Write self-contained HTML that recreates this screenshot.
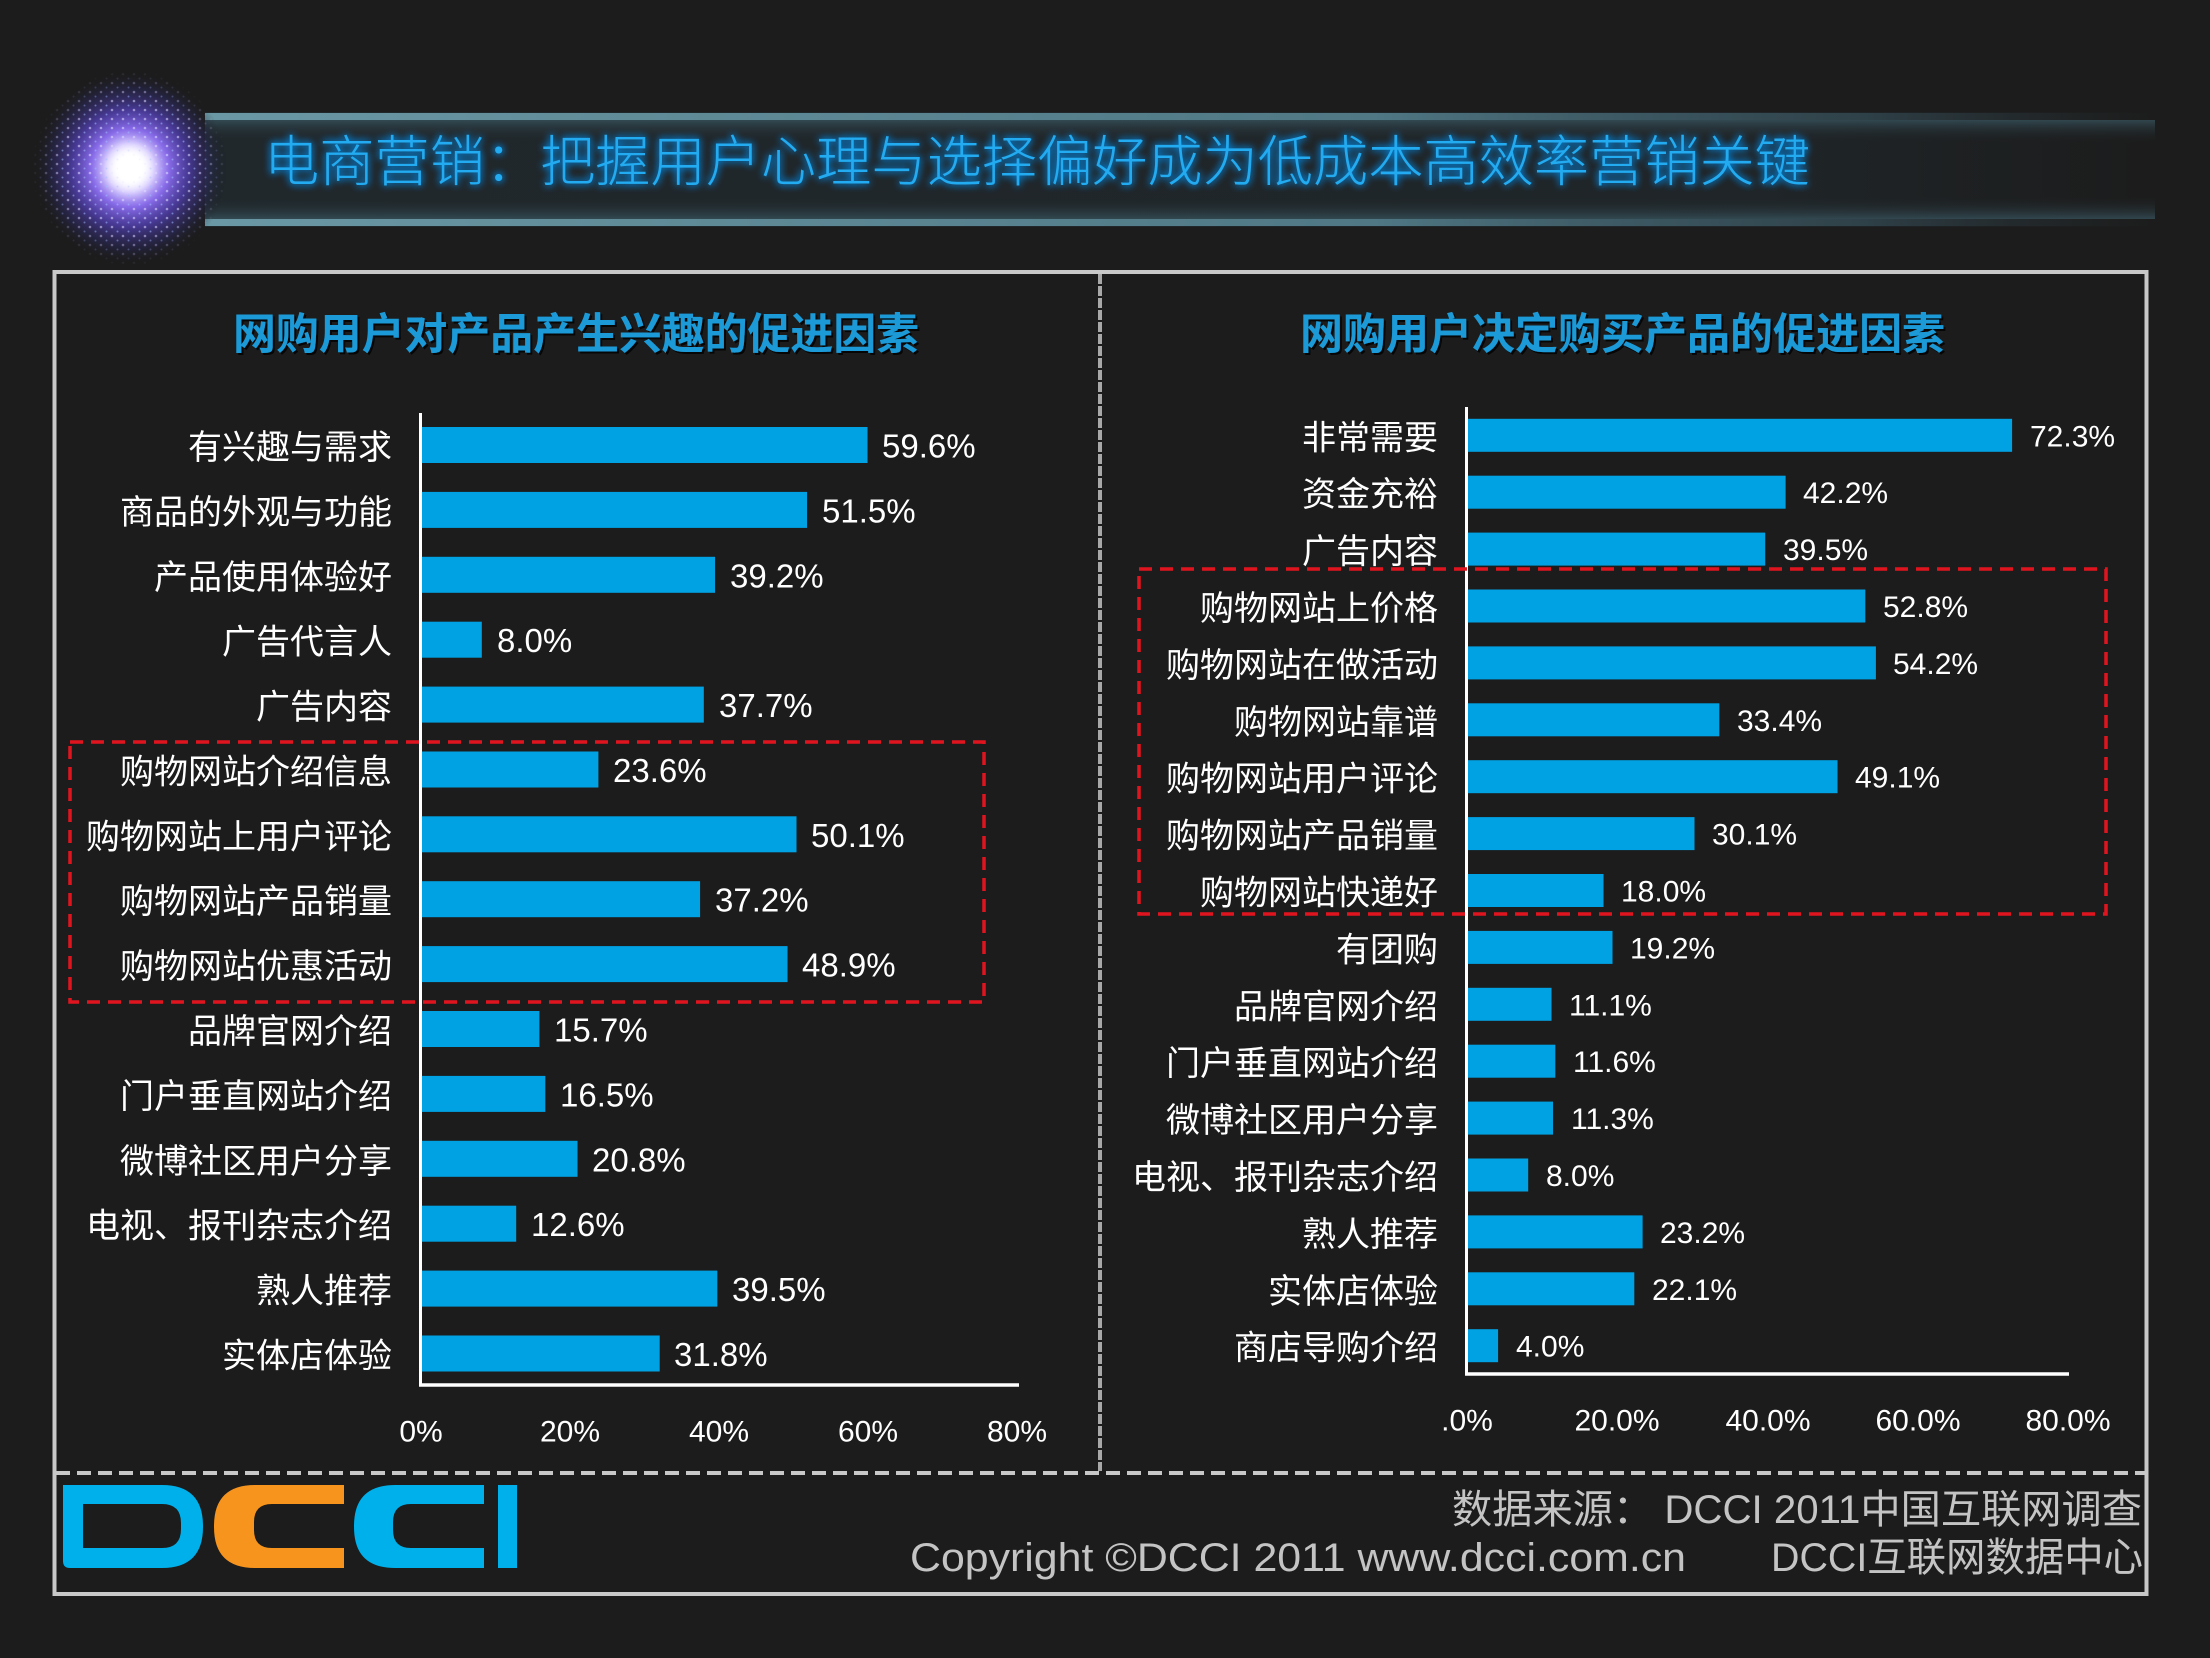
<!DOCTYPE html>
<html>
<head>
<meta charset="utf-8">
<style>
  html,body{margin:0;padding:0;background:#1c1c1c;}
  svg{display:block;}
  text{font-family:"Liberation Sans","Noto Sans CJK SC",sans-serif;}
  .lbl{fill:#ffffff;font-size:34px;text-anchor:end;dominant-baseline:central;}
  .val{fill:#ffffff;font-size:33px;dominant-baseline:central;}
  .valr{fill:#ffffff;font-size:30px;dominant-baseline:central;}
  .tick{fill:#ffffff;font-size:30px;text-anchor:middle;dominant-baseline:central;}
  .bar{fill:#00a2e4;}
</style>
</head>
<body>
<svg width="2210" height="1658" viewBox="0 0 2210 1658" xmlns="http://www.w3.org/2000/svg">
  <defs>
    <radialGradient id="star" cx="0.5" cy="0.5" r="0.5">
      <stop offset="0" stop-color="#ffffff"/>
      <stop offset="0.12" stop-color="#ffffff"/>
      <stop offset="0.24" stop-color="#d6caff"/>
      <stop offset="0.40" stop-color="#8c6ef2" stop-opacity="0.95"/>
      <stop offset="0.60" stop-color="#5240b4" stop-opacity="0.78"/>
      <stop offset="0.82" stop-color="#2a285a" stop-opacity="0.5"/>
      <stop offset="1" stop-color="#1c1c1c" stop-opacity="0"/>
    </radialGradient>
    <radialGradient id="dotmaskg" cx="0.5" cy="0.5" r="0.5">
      <stop offset="0" stop-color="#fff" stop-opacity="1"/>
      <stop offset="0.7" stop-color="#fff" stop-opacity="0.8"/>
      <stop offset="1" stop-color="#fff" stop-opacity="0"/>
    </radialGradient>
    <mask id="dotmask">
      <circle cx="130" cy="168" r="98" fill="url(#dotmaskg)"/>
    </mask>
    <pattern id="dots" width="11" height="9" patternUnits="userSpaceOnUse">
      <circle cx="2" cy="2" r="1.3" fill="#d8d2ff"/>
      <circle cx="7.5" cy="6.5" r="1" fill="#9fb4ff"/>
    </pattern>
    <linearGradient id="bandBody" x1="0" y1="0" x2="1" y2="0">
      <stop offset="0" stop-color="#20282c"/>
      <stop offset="0.8" stop-color="#1f2528"/>
      <stop offset="1" stop-color="#1c1c1c"/>
    </linearGradient>
    <linearGradient id="bandEdge" x1="0" y1="0" x2="1" y2="0">
      <stop offset="0" stop-color="#6a98a4"/>
      <stop offset="0.6" stop-color="#4f7784"/>
      <stop offset="0.85" stop-color="#3a5560" stop-opacity="0.6"/>
      <stop offset="1" stop-color="#2a3438" stop-opacity="0"/>
    </linearGradient>
    <linearGradient id="innerTop" x1="0" y1="0" x2="0" y2="1">
      <stop offset="0" stop-color="#3a5863" stop-opacity="0.7"/>
      <stop offset="1" stop-color="#1f2528" stop-opacity="0"/>
    </linearGradient>
    <linearGradient id="innerBot" x1="0" y1="1" x2="0" y2="0">
      <stop offset="0" stop-color="#3a5863" stop-opacity="0.7"/>
      <stop offset="1" stop-color="#1f2528" stop-opacity="0"/>
    </linearGradient>
    <filter id="glow" x="-5%" y="-40%" width="110%" height="180%">
      <feGaussianBlur in="SourceAlpha" stdDeviation="4" result="b"/>
      <feFlood flood-color="#0a8ae8" flood-opacity="0.9"/>
      <feComposite in2="b" operator="in" result="g"/>
      <feMerge><feMergeNode in="g"/><feMergeNode in="g"/><feMergeNode in="SourceGraphic"/></feMerge>
    </filter>
    <filter id="shadow" x="-5%" y="-30%" width="110%" height="160%">
      <feOffset in="SourceAlpha" dx="2" dy="2" result="o"/>
      <feFlood flood-color="#000000" flood-opacity="0.8"/>
      <feComposite in2="o" operator="in" result="s"/>
      <feMerge><feMergeNode in="s"/><feMergeNode in="SourceGraphic"/></feMerge>
    </filter>
    <filter id="soft" x="-50%" y="-50%" width="200%" height="200%">
      <feGaussianBlur stdDeviation="6"/>
    </filter>
  </defs>

  <rect x="0" y="0" width="2210" height="1658" fill="#1c1c1c"/>

  <!-- title banner -->
  <rect x="205" y="112" width="1950" height="115" fill="url(#bandBody)"/>
  <rect x="205" y="120" width="1950" height="22" fill="url(#innerTop)"/>
  <rect x="205" y="197" width="1950" height="22" fill="url(#innerBot)"/>
  <rect x="205" y="113" width="1950" height="7" fill="url(#bandEdge)"/>
  <rect x="205" y="219" width="1950" height="7" fill="url(#bandEdge)"/>

  <!-- starburst -->
  <circle cx="130" cy="168" r="98" fill="url(#star)"/>
  <rect x="30" y="68" width="200" height="200" fill="url(#dots)" mask="url(#dotmask)" opacity="0.7"/>
  <circle cx="130" cy="168" r="20" fill="#ffffff" filter="url(#soft)"/>
  <circle cx="130" cy="168" r="12" fill="#ffffff" opacity="0.9"/>

  <text x="264" y="162" font-size="55" font-weight="300" fill="#24abf0" dominant-baseline="central" textLength="1546" lengthAdjust="spacingAndGlyphs" filter="url(#glow)">电商营销：把握用户心理与选择偏好成为低成本高效率营销关键</text>

  <!-- outer box -->
  <rect x="54.5" y="272" width="2092" height="1322" fill="none" stroke="#c8c8c8" stroke-width="4"/>
  <line x1="56" y1="1473" x2="2145" y2="1473" stroke="#c8c8c8" stroke-width="4" stroke-dasharray="14 7"/>
  <line x1="1100" y1="274" x2="1100" y2="1471" stroke="#a8a8a8" stroke-width="4" stroke-dasharray="10 2"/>

  <!-- chart titles -->
  <text x="233" y="335" font-size="43" font-weight="bold" fill="#1a9ad8" dominant-baseline="central" textLength="686" lengthAdjust="spacingAndGlyphs" filter="url(#shadow)">网购用户对产品产生兴趣的促进因素</text>
  <text x="1300" y="335" font-size="43" font-weight="bold" fill="#1a9ad8" dominant-baseline="central" textLength="645" lengthAdjust="spacingAndGlyphs" filter="url(#shadow)">网购用户决定购买产品的促进因素</text>

  <!-- LEFT CHART -->
  <rect class="bar" x="422" y="427.0" width="445.5" height="36"/>
  <rect class="bar" x="422" y="491.9" width="385.0" height="36"/>
  <rect class="bar" x="422" y="556.8" width="293.0" height="36"/>
  <rect class="bar" x="422" y="621.7" width="59.8" height="36"/>
  <rect class="bar" x="422" y="686.6" width="281.8" height="36"/>
  <rect class="bar" x="422" y="751.5" width="176.4" height="36"/>
  <rect class="bar" x="422" y="816.3" width="374.5" height="36"/>
  <rect class="bar" x="422" y="881.2" width="278.1" height="36"/>
  <rect class="bar" x="422" y="946.1" width="365.5" height="36"/>
  <rect class="bar" x="422" y="1011.0" width="117.4" height="36"/>
  <rect class="bar" x="422" y="1075.9" width="123.3" height="36"/>
  <rect class="bar" x="422" y="1140.8" width="155.5" height="36"/>
  <rect class="bar" x="422" y="1205.7" width="94.2" height="36"/>
  <rect class="bar" x="422" y="1270.6" width="295.3" height="36"/>
  <rect class="bar" x="422" y="1335.5" width="237.7" height="36"/>

  <g transform="translate(0,3)">
  <text class="lbl" x="392" y="445.0">有兴趣与需求</text>
  <text class="lbl" x="392" y="509.9">商品的外观与功能</text>
  <text class="lbl" x="392" y="574.8">产品使用体验好</text>
  <text class="lbl" x="392" y="639.7">广告代言人</text>
  <text class="lbl" x="392" y="704.6">广告内容</text>
  <text class="lbl" x="392" y="769.5">购物网站介绍信息</text>
  <text class="lbl" x="392" y="834.3">购物网站上用户评论</text>
  <text class="lbl" x="392" y="899.2">购物网站产品销量</text>
  <text class="lbl" x="392" y="964.1">购物网站优惠活动</text>
  <text class="lbl" x="392" y="1029.0">品牌官网介绍</text>
  <text class="lbl" x="392" y="1093.9">门户垂直网站介绍</text>
  <text class="lbl" x="392" y="1158.8">微博社区用户分享</text>
  <text class="lbl" x="392" y="1223.7">电视、报刊杂志介绍</text>
  <text class="lbl" x="392" y="1288.6">熟人推荐</text>
  <text class="lbl" x="392" y="1353.5">实体店体验</text>
  </g>

  <text class="val" x="882" y="446.0">59.6%</text>
  <text class="val" x="822" y="510.9">51.5%</text>
  <text class="val" x="730" y="575.8">39.2%</text>
  <text class="val" x="497" y="640.7">8.0%</text>
  <text class="val" x="719" y="705.6">37.7%</text>
  <text class="val" x="613" y="770.5">23.6%</text>
  <text class="val" x="811" y="835.3">50.1%</text>
  <text class="val" x="715" y="900.2">37.2%</text>
  <text class="val" x="802" y="965.1">48.9%</text>
  <text class="val" x="554" y="1030.0">15.7%</text>
  <text class="val" x="560" y="1094.9">16.5%</text>
  <text class="val" x="592" y="1159.8">20.8%</text>
  <text class="val" x="531" y="1224.7">12.6%</text>
  <text class="val" x="732" y="1289.6">39.5%</text>
  <text class="val" x="674" y="1354.5">31.8%</text>

  <line x1="420.5" y1="413" x2="420.5" y2="1386.5" stroke="#ffffff" stroke-width="3"/>
  <line x1="419" y1="1385" x2="1019" y2="1385" stroke="#ffffff" stroke-width="3.5"/>

  <text class="tick" x="421" y="1432">0%</text>
  <text class="tick" x="570" y="1432">20%</text>
  <text class="tick" x="719" y="1432">40%</text>
  <text class="tick" x="868" y="1432">60%</text>
  <text class="tick" x="1017" y="1432">80%</text>

  <rect x="70" y="742" width="914" height="260" fill="none" stroke="#e0141e" stroke-width="3.5" stroke-dasharray="13 8"/>

  <!-- RIGHT CHART -->
  <rect class="bar" x="1468" y="418.8" width="544.1" height="33"/>
  <rect class="bar" x="1468" y="475.7" width="317.6" height="33"/>
  <rect class="bar" x="1468" y="532.6" width="297.2" height="33"/>
  <rect class="bar" x="1468" y="589.5" width="397.3" height="33"/>
  <rect class="bar" x="1468" y="646.4" width="407.9" height="33"/>
  <rect class="bar" x="1468" y="703.3" width="251.3" height="33"/>
  <rect class="bar" x="1468" y="760.2" width="369.5" height="33"/>
  <rect class="bar" x="1468" y="817.1" width="226.5" height="33"/>
  <rect class="bar" x="1468" y="874.0" width="135.5" height="33"/>
  <rect class="bar" x="1468" y="930.9" width="144.5" height="33"/>
  <rect class="bar" x="1468" y="987.8" width="83.5" height="33"/>
  <rect class="bar" x="1468" y="1044.7" width="87.3" height="33"/>
  <rect class="bar" x="1468" y="1101.6" width="85.0" height="33"/>
  <rect class="bar" x="1468" y="1158.5" width="60.2" height="33"/>
  <rect class="bar" x="1468" y="1215.4" width="174.6" height="33"/>
  <rect class="bar" x="1468" y="1272.3" width="166.3" height="33"/>
  <rect class="bar" x="1468" y="1329.2" width="30.1" height="33"/>

  <g transform="translate(0,3)">
  <text class="lbl" x="1438" y="435.3">非常需要</text>
  <text class="lbl" x="1438" y="492.2">资金充裕</text>
  <text class="lbl" x="1438" y="549.1">广告内容</text>
  <text class="lbl" x="1438" y="606.0">购物网站上价格</text>
  <text class="lbl" x="1438" y="662.9">购物网站在做活动</text>
  <text class="lbl" x="1438" y="719.8">购物网站靠谱</text>
  <text class="lbl" x="1438" y="776.7">购物网站用户评论</text>
  <text class="lbl" x="1438" y="833.6">购物网站产品销量</text>
  <text class="lbl" x="1438" y="890.5">购物网站快递好</text>
  <text class="lbl" x="1438" y="947.4">有团购</text>
  <text class="lbl" x="1438" y="1004.3">品牌官网介绍</text>
  <text class="lbl" x="1438" y="1061.2">门户垂直网站介绍</text>
  <text class="lbl" x="1438" y="1118.1">微博社区用户分享</text>
  <text class="lbl" x="1438" y="1175.0">电视、报刊杂志介绍</text>
  <text class="lbl" x="1438" y="1231.9">熟人推荐</text>
  <text class="lbl" x="1438" y="1288.8">实体店体验</text>
  <text class="lbl" x="1438" y="1345.7">商店导购介绍</text>
  </g>

  <text class="valr" x="2030" y="436.8">72.3%</text>
  <text class="valr" x="1803" y="493.7">42.2%</text>
  <text class="valr" x="1783" y="550.6">39.5%</text>
  <text class="valr" x="1883" y="607.5">52.8%</text>
  <text class="valr" x="1893" y="664.4">54.2%</text>
  <text class="valr" x="1737" y="721.3">33.4%</text>
  <text class="valr" x="1855" y="778.2">49.1%</text>
  <text class="valr" x="1712" y="835.1">30.1%</text>
  <text class="valr" x="1621" y="892.0">18.0%</text>
  <text class="valr" x="1630" y="948.9">19.2%</text>
  <text class="valr" x="1569" y="1005.8">11.1%</text>
  <text class="valr" x="1573" y="1062.7">11.6%</text>
  <text class="valr" x="1571" y="1119.6">11.3%</text>
  <text class="valr" x="1546" y="1176.5">8.0%</text>
  <text class="valr" x="1660" y="1233.4">23.2%</text>
  <text class="valr" x="1652" y="1290.3">22.1%</text>
  <text class="valr" x="1516" y="1347.2">4.0%</text>

  <line x1="1466.5" y1="407" x2="1466.5" y2="1375.5" stroke="#ffffff" stroke-width="3"/>
  <line x1="1465" y1="1374" x2="2069" y2="1374" stroke="#ffffff" stroke-width="3.5"/>

  <text class="tick" x="1467" y="1421">.0%</text>
  <text class="tick" x="1617" y="1421">20.0%</text>
  <text class="tick" x="1768" y="1421">40.0%</text>
  <text class="tick" x="1918" y="1421">60.0%</text>
  <text class="tick" x="2068" y="1421">80.0%</text>

  <rect x="1139" y="569" width="967" height="345" fill="none" stroke="#e0141e" stroke-width="3.5" stroke-dasharray="13 8"/>

  <!-- DCCI logo -->
  <path fill="#00b0ea" fill-rule="evenodd" d="M63,1485 H162 Q203,1485 203,1526 V1527 Q203,1568 162,1568 H70 Q63,1568 63,1561 Z M83,1504 V1548 H162 Q181,1548 181,1529 V1523 Q181,1504 162,1504 Z"/>
  <path fill="#f7941e" d="M344,1485 H255 Q214,1485 214,1526 V1527 Q214,1568 255,1568 H344 V1548 H272 Q254,1548 254,1530 V1522 Q254,1504 272,1504 H344 Z"/>
  <path fill="#00b0ea" d="M484,1485 H395 Q354,1485 354,1526 V1527 Q354,1568 395,1568 H484 V1548 H411 Q393,1548 393,1530 V1522 Q393,1504 411,1504 H484 Z"/>
  <rect x="498" y="1485" width="19" height="83" fill="#00b0ea"/>

  <!-- source text -->
  <text x="1452" y="1510" font-size="40" fill="#c4c4c4" dominant-baseline="central" textLength="690" lengthAdjust="spacingAndGlyphs">数据来源： DCCI 2011中国互联网调查</text>
  <text x="910" y="1558" font-size="40" fill="#c4c4c4" dominant-baseline="central" textLength="776" lengthAdjust="spacingAndGlyphs">Copyright ©DCCI 2011 www.dcci.com.cn</text>
  <text x="1771" y="1558" font-size="40" fill="#c4c4c4" dominant-baseline="central" textLength="372" lengthAdjust="spacingAndGlyphs">DCCI互联网数据中心</text>
</svg>
</body>
</html>
